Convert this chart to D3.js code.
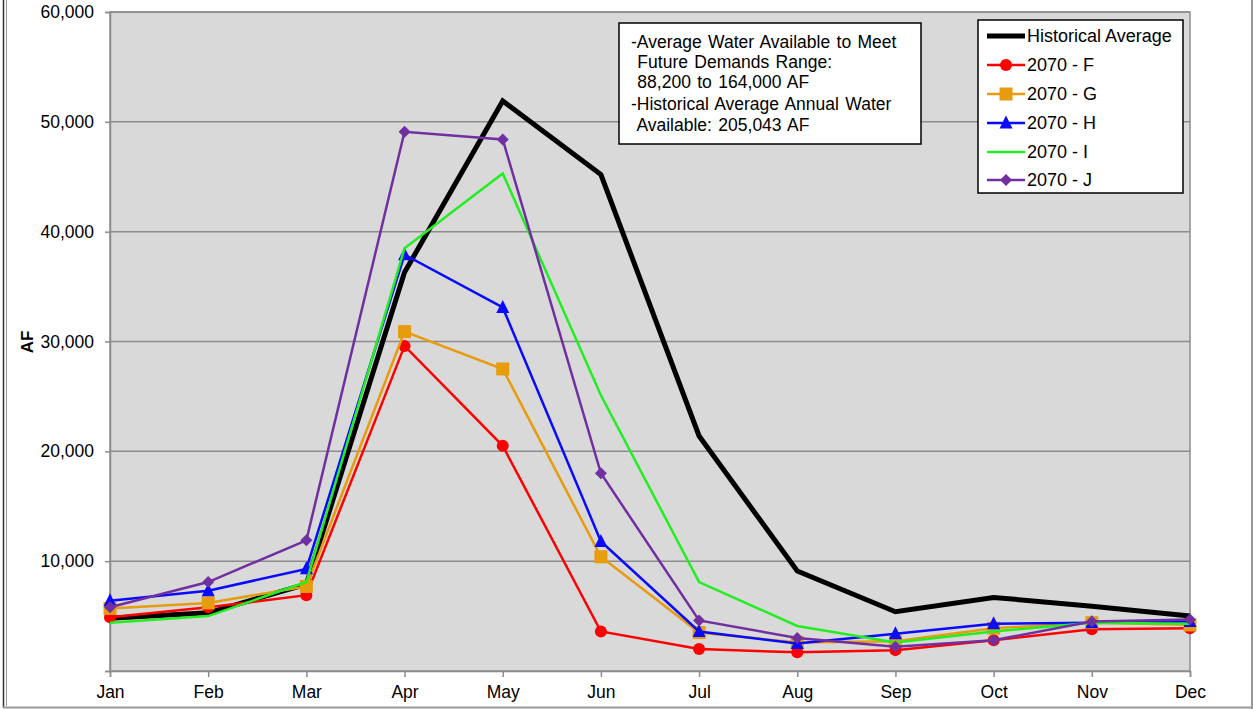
<!DOCTYPE html>
<html>
<head>
<meta charset="utf-8">
<script src="https://cdn.jsdelivr.net/npm/d3@7/dist/d3.min.js"></script>
<style>
  html, body { margin: 0; padding: 0; background: #fff; }
  svg { display: block; font-family: "Liberation Sans", Arial, sans-serif; }
</style>
</head>
<body>
<svg id="chart" width="1254" height="709"></svg>
<script>
const months = ["Jan","Feb","Mar","Apr","May","Jun","Jul","Aug","Sep","Oct","Nov","Dec"];
const yTicks = [0, 10000, 20000, 30000, 40000, 50000, 60000];

const historicalAverage = [4800, 5300, 7900, 36300, 51900, 45200, 21400, 9100, 5400, 6700, 5900, 5000];
const f2070 = [4900, 5800, 6900, 29600, 20500, 3600, 2000, 1700, 1900, 2800, 3800, 3900];
const g2070 = [5700, 6200, 7700, 30900, 27500, 10400, 3500, 2600, 2700, 3900, 4400, 4200];
const h2070 = [6400, 7300, 9300, 37900, 33100, 11800, 3600, 2500, 3400, 4300, 4400, 4500];
const i2070 = [4400, 5000, 8100, 38500, 45300, 25100, 8100, 4100, 2600, 3600, 4400, 4300];
const j2070 = [5800, 8100, 11900, 49100, 48400, 18000, 4600, 3000, 2200, 2800, 4500, 4700];

const seriesNames = ["Historical Average", "2070 - F", "2070 - G", "2070 - H", "2070 - I", "2070 - J"];
const annotationLines = [
  "-Average Water Available to Meet",
  " Future Demands Range:",
  " 88,200 to 164,000 AF",
  "-Historical Average Annual Water",
  " Available: 205,043 AF"
];

const series = [
  {name: seriesNames[0], values: historicalAverage, color: "#000000", width: 5, marker: "none"},
  {name: seriesNames[1], values: f2070, color: "#ff0000", width: 2.5, marker: "circle"},
  {name: seriesNames[2], values: g2070, color: "#e69c0c", width: 2.5, marker: "square"},
  {name: seriesNames[3], values: h2070, color: "#0a0aff", width: 2.5, marker: "triangle"},
  {name: seriesNames[4], values: i2070, color: "#22ee22", width: 2.5, marker: "none"},
  {name: seriesNames[5], values: j2070, color: "#7030a0", width: 2.5, marker: "diamond"}
];

const svg = d3.select("#chart");
const pLeft = 110, pRight = 1190, pTop = 12, pBottom = 671;

const x = d3.scalePoint().domain(months).range([pLeft, pRight]).padding(0);
const y = d3.scaleLinear().domain([0, 60000]).range([pBottom, pTop]);

// outer frame
svg.append("line").attr("x1", 3.5).attr("x2", 3.5).attr("y1", 0).attr("y2", 708).attr("stroke", "#333").attr("stroke-width", 1.5);
svg.append("line").attr("x1", 6.5).attr("x2", 6.5).attr("y1", 0).attr("y2", 706).attr("stroke", "#999").attr("stroke-width", 1);
svg.append("line").attr("x1", 1252).attr("x2", 1252).attr("y1", 0).attr("y2", 709).attr("stroke", "#999").attr("stroke-width", 2);
svg.append("line").attr("x1", 3).attr("x2", 1253).attr("y1", 707.5).attr("y2", 707.5).attr("stroke", "#999").attr("stroke-width", 2);

// plot area
svg.append("rect").attr("x", pLeft).attr("y", pTop).attr("width", pRight - pLeft).attr("height", pBottom - pTop)
  .attr("fill", "#d9d9d9");

// gridlines
svg.append("g").selectAll("line").data(yTicks.filter(d => d > 0)).join("line")
  .attr("x1", pLeft).attr("x2", pRight)
  .attr("y1", d => y(d)).attr("y2", d => y(d))
  .attr("stroke", "#8c8c8c").attr("stroke-width", 1.5);

svg.append("rect").attr("x", pLeft).attr("y", pTop).attr("width", pRight - pLeft).attr("height", pBottom - pTop)
  .attr("fill", "none").attr("stroke", "#8c8c8c").attr("stroke-width", 1.5);

// axes
const yAxis = d3.axisLeft(y).tickValues(yTicks).tickSize(5).tickPadding(11)
  .tickFormat(d => d === 0 ? "" : d3.format(",")(d));
const gy = svg.append("g").attr("transform", `translate(${pLeft},0)`).call(yAxis);
gy.select(".domain").attr("stroke", "#8c8c8c").attr("stroke-width", 1.5);
gy.selectAll(".tick line").attr("stroke", "#8c8c8c").attr("stroke-width", 1.5);
gy.selectAll(".tick text").attr("font-size", 17.5).attr("fill", "#000").attr("font-family", "Liberation Sans, Arial, sans-serif");

const xAxis = d3.axisBottom(x).tickSize(6).tickPadding(9);
const gx = svg.append("g").attr("transform", `translate(0,${pBottom})`).call(xAxis);
gx.select(".domain").attr("stroke", "#8c8c8c").attr("stroke-width", 1.5);
gx.selectAll(".tick line").attr("stroke", "#8c8c8c").attr("stroke-width", 1.5);
gx.selectAll(".tick text").attr("font-size", 17.5).attr("fill", "#000").attr("font-family", "Liberation Sans, Arial, sans-serif");

svg.append("text").attr("transform", "translate(33,342) rotate(-90)")
  .attr("text-anchor", "middle").attr("font-size", 17).attr("font-weight", "bold").text("AF");

// markers
function drawMarker(g, type, cx, cy, color, scale) {
  const s = scale || 1;
  if (type === "circle") {
    g.append("circle").attr("cx", cx).attr("cy", cy).attr("r", 6 * s).attr("fill", color);
  } else if (type === "square") {
    const h = 6.5 * s;
    g.append("rect").attr("x", cx - h).attr("y", cy - h).attr("width", 2 * h).attr("height", 2 * h).attr("fill", color);
  } else if (type === "triangle") {
    const h = 6.5 * s;
    g.append("path").attr("d", `M${cx},${cy - h - 1}L${cx + h},${cy + h - 1}L${cx - h},${cy + h - 1}Z`).attr("fill", color);
  } else if (type === "diamond") {
    const h = 6 * s;
    g.append("path").attr("d", `M${cx},${cy - h}L${cx + h},${cy}L${cx},${cy + h}L${cx - h},${cy}Z`).attr("fill", color);
  }
}

const line = d3.line().x((d, i) => x(months[i])).y(d => y(d));
series.forEach(s => {
  const g = svg.append("g");
  g.append("path").datum(s.values).attr("d", line)
    .attr("fill", "none").attr("stroke", s.color).attr("stroke-width", s.width).attr("stroke-linejoin", "miter");
  s.values.forEach((v, i) => drawMarker(g, s.marker, x(months[i]), y(v), s.color));
});

// annotation box
const ann = svg.append("g");
ann.append("rect").attr("x", 619).attr("y", 23).attr("width", 302).attr("height", 121)
  .attr("fill", "#fff").attr("stroke", "#000").attr("stroke-width", 1.5);
const annY = [42, 62, 82, 104, 125];
annotationLines.forEach((t, i) => {
  ann.append("text").attr("x", 631).attr("y", annY[i]).attr("dy", "0.35em")
    .attr("font-size", 17.5).attr("word-spacing", 1.5)
    .attr("xml:space", "preserve").style("white-space", "pre").text(t);
});

// legend
const lg = svg.append("g");
lg.append("rect").attr("x", 978).attr("y", 20).attr("width", 205).attr("height", 173)
  .attr("fill", "#fff").attr("stroke", "#000").attr("stroke-width", 1.5);
const legY = [36, 65, 94, 123, 152, 180];
series.forEach((s, i) => {
  lg.append("line").attr("x1", 987).attr("x2", 1025).attr("y1", legY[i]).attr("y2", legY[i])
    .attr("stroke", s.color).attr("stroke-width", s.width);
  drawMarker(lg, s.marker, 1006, legY[i], s.color);
  lg.append("text").attr("x", 1027).attr("y", legY[i]).attr("dy", "0.35em")
    .attr("font-size", 18).text(s.name);
});
</script>
</body>
</html>
